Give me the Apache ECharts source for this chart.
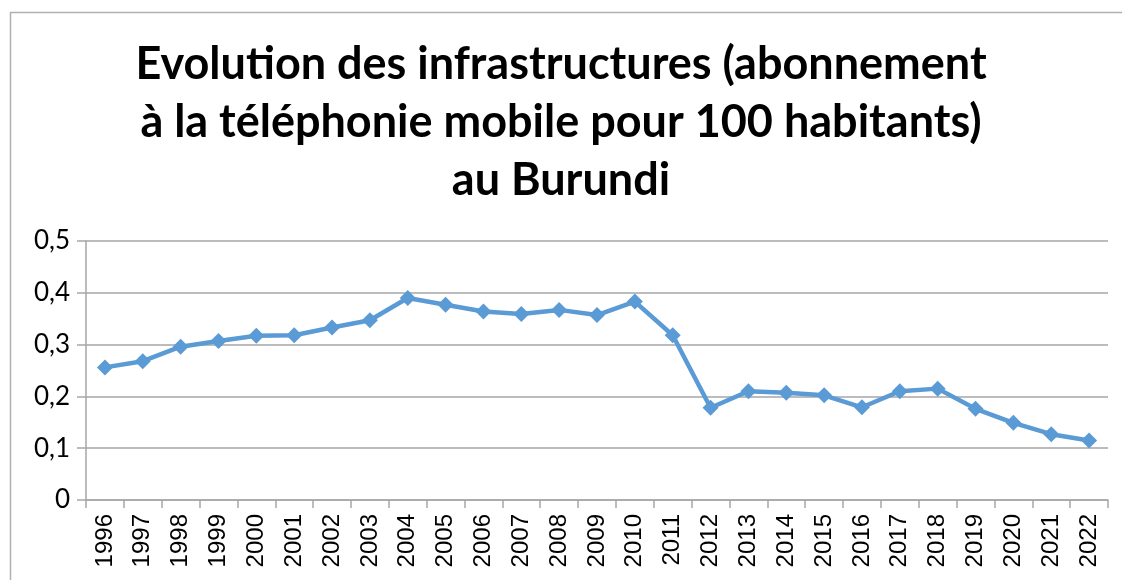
<!DOCTYPE html>
<html>
<head>
<meta charset="utf-8">
<script src="https://cdn.jsdelivr.net/npm/echarts@6/dist/echarts.min.js"></script>
<style>
	html, body { margin: 0; padding: 0; background: #fff; }
	#chart { width: 1122px; height: 580px; }
</style>
</head>
<body>
<div id="chart"></div>
<script>
	var titleText = 'Evolution des infrastructures (abonnement\nà la téléphonie mobile pour 100 habitants)\nau Burundi';
	var years = ['1996', '1997', '1998', '1999', '2000', '2001', '2002', '2003', '2004', '2005',
		'2006', '2007', '2008', '2009', '2010', '2011', '2012', '2013', '2014', '2015',
		'2016', '2017', '2018', '2019', '2020', '2021', '2022'];
	var abonnements = [0.256, 0.268, 0.296, 0.307, 0.317, 0.318, 0.333, 0.347, 0.390, 0.377,
		0.364, 0.359, 0.367, 0.357, 0.383, 0.318, 0.178, 0.210, 0.207, 0.202,
		0.179, 0.210, 0.215, 0.176, 0.149, 0.127, 0.115];
	var yTicks = [0, 0.1, 0.2, 0.3, 0.4, 0.5];

	var chart = echarts.init(document.getElementById('chart'));
	var option = {
		animation: false,
		title: {
			text: titleText,
			left: 'center',
			top: 30,
			textStyle: {
				fontFamily: 'Lato',
				fontWeight: 'bold',
				fontSize: 45,
				lineHeight: 58,
				color: '#000'
			}
		},
		graphic: [{
			type: 'polyline',
			shape: { points: [[10.5, 600], [10.5, 12.5], [1130, 12.5]] },
			style: { stroke: '#b0b0b0', lineWidth: 1.5, fill: null }
		}],
		grid: {
			left: 86,
			right: 14,
			top: 241,
			bottom: 80
		},
		xAxis: {
			type: 'category',
			data: years,
			boundaryGap: true,
			axisLine: { lineStyle: { color: '#a6a6a6', width: 1.5 } },
			axisTick: { show: true, length: 8, lineStyle: { color: '#a6a6a6', width: 1.5 } },
			axisLabel: {
				rotate: 90,
				interval: 0,
				margin: 14,
				fontFamily: 'Liberation Sans',
				fontSize: 24,
				color: '#000'
			}
		},
		yAxis: {
			type: 'value',
			min: yTicks[0],
			max: yTicks[yTicks.length - 1],
			interval: 0.1,
			axisLine: { show: true, lineStyle: { color: '#a6a6a6', width: 1.5 } },
			axisTick: { show: true, length: 9, lineStyle: { color: '#a6a6a6', width: 1.5 } },
			splitLine: { lineStyle: { color: '#a6a6a6', width: 1.5 } },
			axisLabel: {
				margin: 16,
				fontFamily: 'Lato',
				fontSize: 26,
				color: '#000',
				formatter: function (v) {
					return String(Math.round(v * 10) / 10).replace('.', ',');
				}
			}
		},
		series: [{
			type: 'line',
			data: abonnements,
			symbol: 'diamond',
			symbolSize: 16,
			lineStyle: { color: '#5b9bd5', width: 4.5 },
			itemStyle: { color: '#5b9bd5' }
		}]
	};
	chart.setOption(option);
</script>
</body>
</html>
